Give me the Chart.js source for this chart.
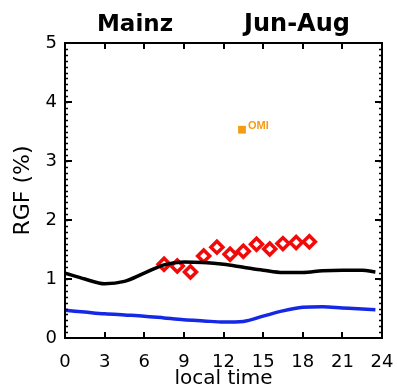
<!DOCTYPE html>
<html>
<head>
<meta charset="utf-8">
<script src="https://cdn.jsdelivr.net/npm/chart.js@4/dist/chart.umd.min.js"></script>
<style>
  html, body { margin: 0; padding: 0; background: #fff; }
  #wrap { width: 397px; height: 391px; }
</style>
</head>
<body>
<div id="wrap"><canvas id="myChart" width="397" height="391"></canvas></div>
<script>
// model diurnal cycle (local time, hours)
var hours = [0, 1.5, 3, 4.5, 6, 7.5, 9, 10.5, 12, 13.5, 15, 16.5, 18, 19.5, 21, 22.5, 23.5];
var blackLine = [1.10, 1.00, 0.92, 0.96, 1.10, 1.24, 1.29, 1.28, 1.25, 1.20, 1.15, 1.11, 1.11, 1.14, 1.15, 1.15, 1.12];
var blueLine = [0.47, 0.44, 0.41, 0.39, 0.37, 0.34, 0.31, 0.29, 0.27, 0.28, 0.37, 0.46, 0.52, 0.53, 0.51, 0.49, 0.48];

// observations
var obsHours = [7.5, 8.5, 9.5, 10.5, 11.5, 12.5, 13.5, 14.5, 15.5, 16.5, 17.5, 18.5];
var obsValues = [1.25, 1.22, 1.12, 1.39, 1.54, 1.42, 1.47, 1.59, 1.51, 1.60, 1.62, 1.63];

var omiHour = [13.4];
var omiValue = [3.53];

var xTicks = [0, 3, 6, 9, 12, 15, 18, 21, 24];
var yTicks = [0, 1, 2, 3, 4, 5];

function pts(xs, ys) {
    var out = [];
    for (var i = 0; i < xs.length; i++) out.push({x: xs[i], y: ys[i]});
    return out;
}

var frame = {
    id: 'frame',
    afterDraw: function (chart) {
        var ctx = chart.ctx;
        var a = chart.chartArea;
        var xs = chart.scales.x, ys = chart.scales.y;
        ctx.save();
        ctx.strokeStyle = '#000';
        ctx.lineWidth = 2;
        ctx.strokeRect(a.left, a.top, a.right - a.left, a.bottom - a.top);
        ctx.beginPath();
        for (var i = 1; i < xTicks.length - 1; i++) {
            var px = Math.round(xs.getPixelForValue(xTicks[i]));
            ctx.moveTo(px, a.bottom); ctx.lineTo(px, a.bottom - 6);
            ctx.moveTo(px, a.top); ctx.lineTo(px, a.top + 6);
        }
        ctx.stroke();
        ctx.lineWidth = 1.5;
        ctx.beginPath();
        for (var k = 1; k < 50; k++) {
            var py = Math.round(ys.getPixelForValue(k / 10)) + 0.5;
            ctx.moveTo(a.left, py); ctx.lineTo(a.left + 3, py);
            ctx.moveTo(a.right, py); ctx.lineTo(a.right - 3, py);
        }
        ctx.stroke();
        ctx.lineWidth = 2;
        ctx.beginPath();
        for (var j = 1; j < 5; j++) {
            var py2 = Math.round(ys.getPixelForValue(j));
            ctx.moveTo(a.left, py2); ctx.lineTo(a.left + 7, py2);
            ctx.moveTo(a.right, py2); ctx.lineTo(a.right - 7, py2);
        }
        ctx.stroke();

        // titles
        ctx.fillStyle = '#000';
        ctx.font = 'bold 23px "DejaVu Sans"';
        ctx.textAlign = 'center';
        ctx.textBaseline = 'alphabetic';
        ctx.fillText('Mainz', 135, 31);
        ctx.font = 'bold 24px "DejaVu Sans"';
        ctx.fillText('Jun-Aug', 297, 31);

        // OMI label
        var p = chart.getDatasetMeta(3).data[0];
        ctx.fillStyle = 'rgb(245,155,20)';
        ctx.font = 'bold 11px "Liberation Sans"';
        ctx.textAlign = 'left';
        ctx.fillText('OMI', p.x + 6, p.y - 1);
        ctx.restore();
    }
};

var ctx = document.getElementById('myChart').getContext('2d');
var chart = new Chart(ctx, {
    type: 'scatter',
    data: {
        datasets: [{
            label: 'model',
            data: pts(hours, blackLine),
            showLine: true,
            borderColor: '#000',
            borderWidth: 3.5,
            pointRadius: 0,
            tension: 0.4,
            cubicInterpolationMode: 'monotone'
        }, {
            label: 'model 2',
            data: pts(hours, blueLine),
            showLine: true,
            borderColor: 'rgb(20,40,230)',
            borderWidth: 3.5,
            pointRadius: 0,
            tension: 0.4,
            cubicInterpolationMode: 'monotone'
        }, {
            label: 'obs',
            data: pts(obsHours, obsValues),
            pointStyle: 'rectRot',
            radius: 6,
            borderWidth: 3.5,
            borderColor: 'rgb(240,10,10)',
            backgroundColor: '#fff'
        }, {
            label: 'OMI',
            data: pts(omiHour, omiValue),
            pointStyle: 'rect',
            radius: 5.5,
            borderWidth: 0,
            backgroundColor: 'rgb(245,155,20)'
        }]
    },
    options: {
        responsive: false,
        animation: false,
        layout: {padding: {top: 43, right: 15, left: 0, bottom: 0}},
        plugins: {legend: {display: false}, tooltip: {enabled: false}},
        scales: {
            x: {
                type: 'linear', min: 0, max: 24,
                afterBuildTicks: function (s) { s.ticks = xTicks.map(function (v) { return {value: v}; }); },
                afterFit: function (s) { s.height = 53; s.paddingLeft = 0; s.paddingRight = 0; },
                grid: {display: false},
                border: {display: false},
                ticks: {color: '#000', padding: 6, maxRotation: 0, font: {family: 'DejaVu Sans', size: 18}},
                title: {display: true, text: 'local time', color: '#000', padding: 0, font: {family: 'DejaVu Sans', size: 20}}
            },
            y: {
                min: 0, max: 5,
                afterBuildTicks: function (s) { s.ticks = yTicks.map(function (v) { return {value: v}; }); },
                afterFit: function (s) { s.width = 65; s.paddingTop = 0; s.paddingBottom = 0; },
                grid: {display: false},
                border: {display: false},
                ticks: {color: '#000', padding: 0, font: {family: 'DejaVu Sans', size: 18}},
                title: {display: true, text: 'RGF (%)', color: '#000', padding: {top: 10, bottom: 0}, font: {family: 'DejaVu Sans', size: 22}}
            }
        }
    },
    plugins: [frame]
});
</script>
</body>
</html>
